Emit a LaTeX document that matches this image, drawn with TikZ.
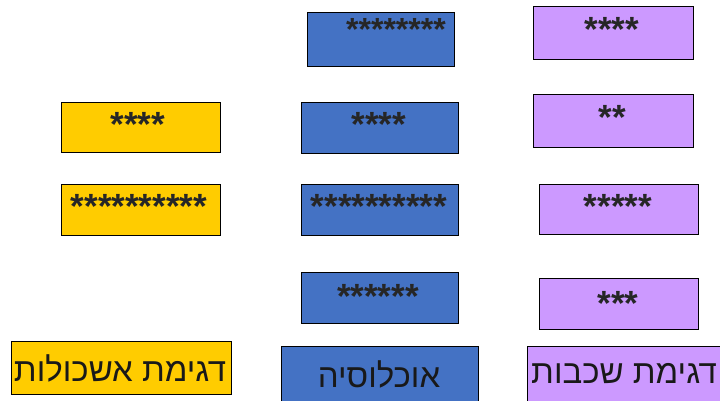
\documentclass[tikz,border=0pt]{standalone}
\usepackage{fontspec}
\setmainfont{Liberation Sans}
\newfontfamily\hebfont[Script=Hebrew]{Liberation Sans}
\TeXXeTstate=1
\definecolor{popblue}{HTML}{4472C4}
\definecolor{clustyellow}{HTML}{FFCC00}
\definecolor{stratpurple}{HTML}{CC99FF}
\tikzset{
  cell/.style={draw=black, line width=1.4pt, inner sep=0pt, anchor=north west},
  bluecell/.style={cell, fill=popblue},
  yellowcell/.style={cell, fill=clustyellow},
  purplecell/.style={cell, fill=stratpurple},
  stars/.style={inner sep=0pt, anchor=base, text=black!85, font=\bfseries\fontsize{35}{35}\selectfont},
  title/.style={inner sep=0pt, text=black!90, font=\hebfont\fontsize{33}{33}\selectfont},
}
\begin{document}
\begin{tikzpicture}[x=1pt, y=-1pt]
\clip (0,0) rectangle (720,401);
\fill[white] (0,0) rectangle (720,401);

% population column
\node[bluecell, minimum width=147pt, minimum height=54pt] (b1) at (307,12) {};
\node[bluecell, minimum width=157pt, minimum height=51pt] (b2) at (301,102) {};
\node[bluecell, minimum width=157pt, minimum height=51pt] (b3) at (301,184) {};
\node[bluecell, minimum width=157pt, minimum height=51pt] (b4) at (301,272) {};
\node[bluecell, minimum width=197pt, minimum height=70pt] (bl) at (281,346) {};

% stratified sample column
\node[purplecell, minimum width=160pt, minimum height=53pt] (p1) at (533,6) {};
\node[purplecell, minimum width=160pt, minimum height=53pt] (p2) at (533,94) {};
\node[purplecell, minimum width=159pt, minimum height=50pt] (p3) at (539,184) {};
\node[purplecell, minimum width=159pt, minimum height=51pt] (p4) at (539,278) {};
\node[purplecell, minimum width=220pt, minimum height=70pt] (pl) at (527,346) {};

% cluster sample column
\node[yellowcell, minimum width=159pt, minimum height=50pt] (y1) at (61,102) {};
\node[yellowcell, minimum width=159pt, minimum height=51pt] (y2) at (61,184) {};
\node[yellowcell, minimum width=220pt, minimum height=53pt] (yl) at (11,341) {};

% star counts
\node[stars, font=\bfseries\fontsize{32}{32}\selectfont, anchor=base east] (sb1) at (446,41) {********};
\node[stars] (sb2) at (379,137) {****};
\node[stars] (sb3) at (379,218) {**********};
\node[stars] (sb4) at (378,308) {******};
\node[stars] (sp1) at (612,42) {****};
\node[stars] (sp2) at (612,130) {**};
\node[stars] (sp3) at (618,218) {*****};
\node[stars] (sp4) at (618,315) {***};
\node[stars] (sy1) at (138,137) {****};
\node[stars] (sy2) at (139,218) {**********};

% column titles
\node[title] (tb) at (379,374) {\beginR אוכלוסיה\endR};
\node[title, anchor=west] (tp) at (531,374) {\beginR דגימת שכבות\endR};
\node[title] (ty) at (120,368) {\beginR דגימת אשכולות\endR};
\end{tikzpicture}
\end{document}
